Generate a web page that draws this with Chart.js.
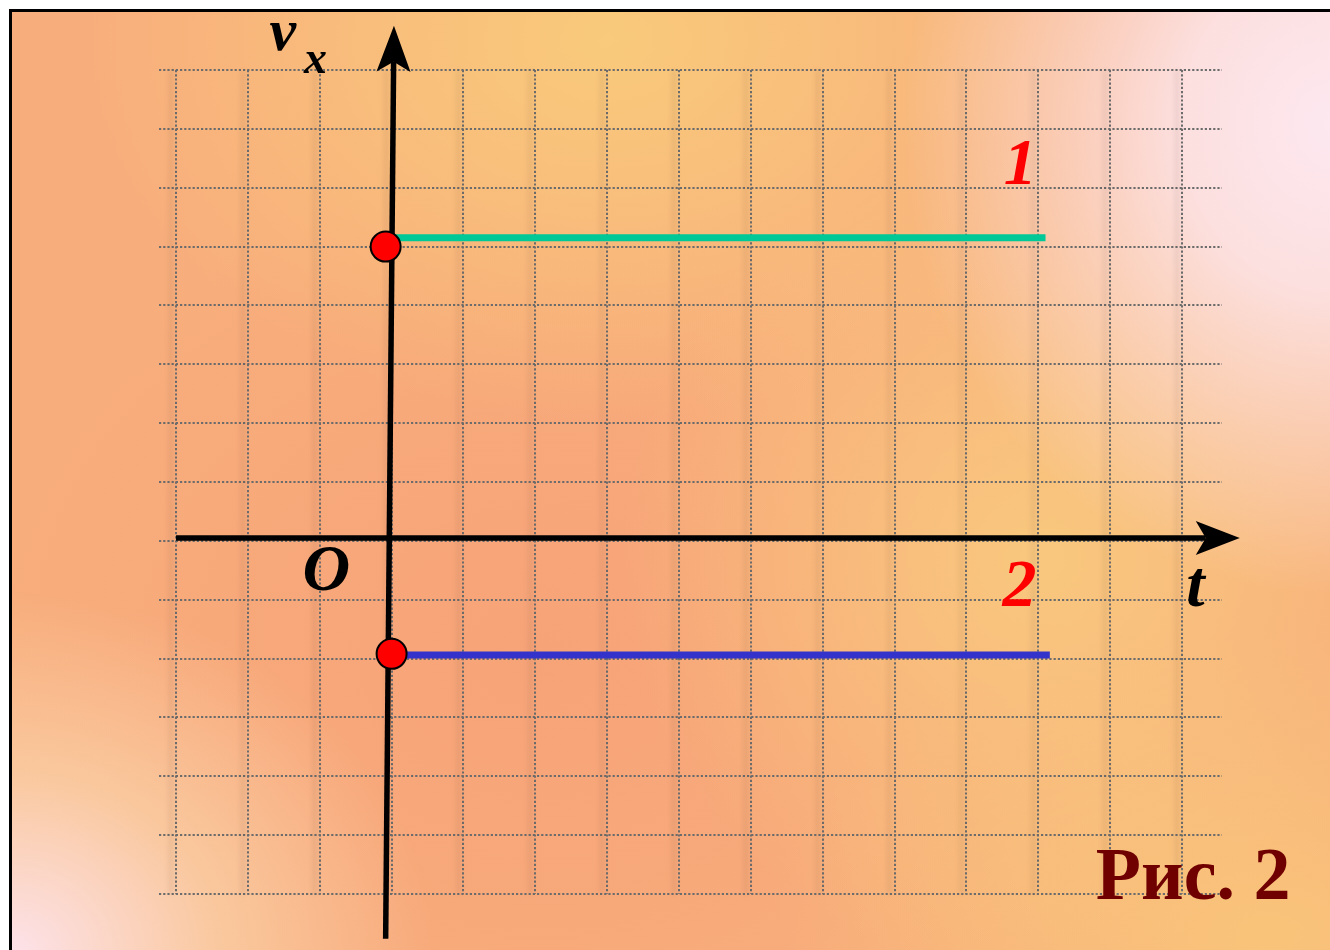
<!DOCTYPE html>
<html>
<head>
<meta charset="utf-8">
<script src="https://cdn.jsdelivr.net/npm/chart.js@4.4.1/dist/chart.umd.min.js"></script>
<style>
  body { margin: 0; background: #fff; width: 1330px; height: 950px; overflow: hidden; }
  #frame {
    position: absolute; left: 9px; top: 9px; width: 1321px; height: 941px;
    border-top: 3px solid #000; border-left: 3px solid #000;
    background:
      radial-gradient(ellipse 430px 470px at 100% 12%, rgba(253,232,240,1) 0%, rgba(253,232,240,0.85) 35%, rgba(253,232,240,0) 100%),
      radial-gradient(ellipse 420px 360px at 0% 100%, rgba(253,226,234,1) 0%, rgba(251,218,180,0.6) 50%, rgba(251,218,180,0) 100%),
      radial-gradient(ellipse 520px 380px at 45% 3%, rgba(249,202,123,1) 0%, rgba(249,202,123,0) 100%),
      radial-gradient(ellipse 420px 420px at 78% 58%, rgba(249,200,126,1) 0%, rgba(249,200,126,0) 100%),
      radial-gradient(ellipse 500px 300px at 95% 98%, rgba(249,196,122,1) 0%, rgba(249,196,122,0) 100%),
      radial-gradient(ellipse 600px 480px at 40% 68%, rgba(247,163,120,1) 0%, rgba(247,163,120,0) 100%),
      #f8ae7c;
  }
  canvas { position: absolute; left: 0; top: 0; }
</style>
</head>
<body>
<div id="frame"></div>
<canvas id="c" width="1330" height="950"></canvas>
<script>
// grid ticks (units of the chart)
const xTicks = [-3, -2, -1, 0, 1, 2, 3, 4, 5, 6, 7, 8, 9, 10, 11];
const yTicks = [-6, -5, -4, -3, -2, -1, 0, 1, 2, 3, 4, 5, 6, 7, 8];

// graph 1 and graph 2: v_x = const
const t1 = [0, 9.1];
const v1 = [5.15, 5.15];
const t2 = [0, 9.16];
const v2 = [-1.94, -1.94];

// initial points
const startT = [-0.083, 0];
const startV = [5.0, -1.92];

// axes (last point = base of the arrow)
const tAxisT = [-3.0, 11.33];
const tAxisV = [0.05, 0.05];
const vAxisT = [-0.083, 0.028];
const vAxisV = [-6.76, 8.14];

// text
const notes = [
  { text: 'v', x: -1.70, y: 8.34, font: 'bold italic 60px "Liberation Serif"', color: '#000' },
  { text: 'x', x: -1.22, y: 7.95, font: 'bold italic 46px "Liberation Serif"', color: '#000' },
  { text: 'O', x: -1.24, y: -0.83, font: 'bold italic 66px "Liberation Serif"', color: '#000' },
  { text: 't', x: 11.06, y: -1.10, font: 'bold italic 66px "Liberation Serif"', color: '#000' },
  { text: '1', x: 8.52, y: 6.07, font: 'bold italic 66px "Liberation Serif"', color: '#ff0000' },
  { text: '2', x: 8.50, y: -1.10, font: 'bold italic 68px "Liberation Serif"', color: '#ff0000' },
  { text: 'Рис. 2', x: 9.80, y: -6.08, font: 'bold 74px "Liberation Serif"', color: '#700000' }
];

const pts = (xs, ys) => xs.map((x, i) => ({ x: x, y: ys[i] }));

// soft blurred bands next to the grid lines
const gridShade = {
  id: 'gridShade',
  beforeDatasetsDraw(chart) {
    const ctx = chart.ctx, a = chart.chartArea;
    const xs = chart.scales.x;
    ctx.save();
    ctx.filter = 'blur(2px)';
    ctx.strokeStyle = 'rgba(90,60,40,0.07)';
    ctx.lineWidth = 6;
    xTicks.forEach(v => {
      const px = xs.getPixelForValue(v) - 5;
      ctx.beginPath(); ctx.moveTo(px, a.top); ctx.lineTo(px, a.bottom); ctx.stroke();
    });
    ctx.restore();
  }
};

const arrowsAndText = {
  id: 'arrowsAndText',
  afterDatasetsDraw(chart) {
    const ctx = chart.ctx;
    const xs = chart.scales.x, ys = chart.scales.y;
    ctx.save();
    [[tAxisT, tAxisV, 34], [vAxisT, vAxisV, 36]].forEach(([ax, av, len]) => {
      const n = ax.length;
      const x0 = xs.getPixelForValue(ax[n - 2]), y0 = ys.getPixelForValue(av[n - 2]);
      const x1 = xs.getPixelForValue(ax[n - 1]), y1 = ys.getPixelForValue(av[n - 1]);
      const a = Math.atan2(y1 - y0, x1 - x0);
      ctx.translate(x1, y1);
      ctx.rotate(a);
      ctx.beginPath();
      ctx.moveTo(len, 0);
      ctx.lineTo(-10, -17);
      ctx.lineTo(0, 0);
      ctx.lineTo(-10, 17);
      ctx.closePath();
      ctx.fillStyle = '#000';
      ctx.fill();
      ctx.setTransform(1, 0, 0, 1, 0, 0);
    });
    notes.forEach(n => {
      ctx.font = n.font;
      ctx.fillStyle = n.color;
      ctx.textBaseline = 'alphabetic';
      ctx.textAlign = 'left';
      ctx.fillText(n.text, xs.getPixelForValue(n.x), ys.getPixelForValue(n.y));
    });
    ctx.restore();
  }
};

const gridScale = (min, max, ticks) => ({
  type: 'linear',
  min: min,
  max: max,
  afterBuildTicks: s => { s.ticks = ticks.map(v => ({ value: v })); },
  ticks: { display: false },
  grid: { color: '#6c6c6c', lineWidth: 2, drawTicks: false },
  border: { display: false, dash: [2.2, 2] }
});

new Chart(document.getElementById('c'), {
  type: 'scatter',
  data: {
    datasets: [
      {
        label: 'start',
        data: pts(startT, startV),
        pointRadius: 15,
        pointBackgroundColor: '#ff0000',
        pointBorderColor: '#000',
        pointBorderWidth: 2,
        clip: false,
        order: 0
      },
      {
        label: '1',
        data: pts(t1, v1),
        showLine: true,
        borderColor: '#00c896',
        borderWidth: 7,
        pointRadius: 0,
        clip: false,
        order: 1
      },
      {
        label: '2',
        data: pts(t2, v2),
        showLine: true,
        borderColor: '#3333cc',
        borderWidth: 7,
        pointRadius: 0,
        clip: false,
        order: 1
      },
      {
        label: 't axis',
        data: pts(tAxisT, tAxisV),
        showLine: true,
        borderColor: '#000',
        borderWidth: 5.5,
        pointRadius: 0,
        clip: false,
        order: 2
      },
      {
        label: 'v axis',
        data: pts(vAxisT, vAxisV),
        showLine: true,
        borderColor: '#000',
        borderWidth: 5.5,
        pointRadius: 0,
        clip: false,
        order: 2
      }
    ]
  },
  options: {
    responsive: false,
    animation: false,
    events: [],
    layout: { padding: { left: 159, right: 108, top: 70, bottom: 56 } },
    plugins: { legend: { display: false }, tooltip: { enabled: false } },
    scales: {
      x: gridScale(-3.237, 11.556, xTicks),
      y: gridScale(-6, 8, yTicks)
    }
  },
  plugins: [gridShade, arrowsAndText]
});
</script>
</body>
</html>
